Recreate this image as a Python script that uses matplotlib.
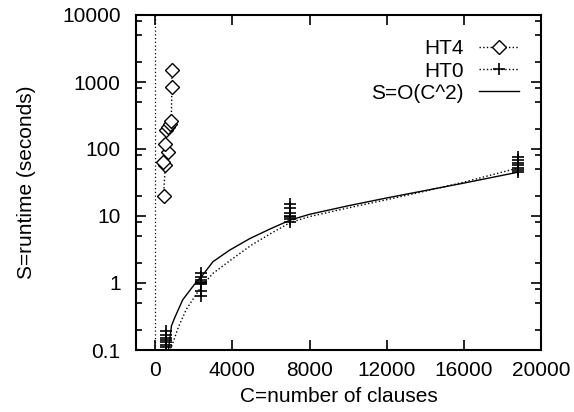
import numpy as np
import matplotlib
matplotlib.use("Agg")
import matplotlib.pyplot as plt
from matplotlib.lines import Line2D
from matplotlib.ticker import FixedLocator, NullLocator, NullFormatter

plt.rcParams['font.family'] = ['Liberation Sans', 'DejaVu Sans']

# HT4 runs (diamonds), ordered as connected
ht4_x = [430, 520, 395, 650, 480, 535, 650, 740, 830, 860, 860]
ht4_y = [20, 57, 63, 91, 117, 195, 215, 235, 260, 840, 1500]

# HT0 runs (crosses), four clusters of clause counts
ht0_x = [535, 535, 535, 535, 535, 535, 535,
         2350, 2350, 2350, 2350, 2350, 2350, 2350, 2350,
         7000, 7000, 7000, 7000, 7000, 7000, 7000,
         18800, 18800, 18800, 18800, 18800, 18800, 18800]
ht0_y = [0.11, 0.12, 0.13, 0.14, 0.15, 0.17, 0.19,
         1.4, 1.25, 1.1, 1.05, 1.0, 0.95, 0.76, 0.64,
         15, 13, 11, 10, 9.5, 9, 8,
         75, 68, 62, 58, 52, 48, 45]

# dotted HT0 trend
ht0_line_x = [780, 1200, 1600, 2400, 3000, 4000, 5000, 6000, 7000, 8000,
              10000, 12000, 14000, 16000, 18800]
ht0_line_y = [0.1, 0.22, 0.40, 0.90, 1.4, 2.3, 3.7, 5.5, 8.0, 9.8,
              13.2, 17.5, 23.5, 32, 52]

# S=O(C^2) curve
fit_x = [680, 840, 1000, 1420, 2130, 2400, 2990, 3860, 4900, 6000, 7000,
         8000, 10000, 12000, 14000, 16000, 18800]
fit_y = [0.1, 0.23, 0.30, 0.56, 1.04, 1.25, 2.08, 3.1, 4.6, 6.5, 8.7,
         10.6, 14.2, 18.6, 24, 31, 45]

xticks = [0, 4000, 8000, 12000, 16000, 20000]
yticks = [0.1, 1, 10, 100, 1000, 10000]
ytick_labels = ["0.1", "1", "10", "100", "1000", "10000"]

fs = 15

fig = plt.figure(figsize=(5.74, 4.12), dpi=100)
ax = fig.add_axes([136/574, 1-350/412, 405/574, 335/412])

ax.axvline(0, color='k', ls=(0, (1, 2)), lw=0.9)

ax.plot(ht4_x, ht4_y, color='k', ls=':', lw=1, marker='D', ms=7,
        mfc='white', mec='k', mew=1)
ax.plot(ht0_line_x, ht0_line_y, color='k', ls=':', lw=1)
ax.plot(ht0_x, ht0_y, ls='none', marker='+', ms=9, mec='k', mew=1.2)
ax.plot(fit_x, fit_y, color='k', lw=1)

ax.set_yscale('log')
ax.set_xlim(-1000, 20000)
ax.set_ylim(0.1, 10000)

ax.xaxis.set_major_locator(FixedLocator(xticks))
ax.xaxis.set_minor_locator(NullLocator())
ax.set_yticks(yticks)
ax.set_yticklabels(ytick_labels)
minors = [m * 10.0**k for k in range(-1, 4) for m in (2, 5, 8)]
ax.yaxis.set_minor_locator(FixedLocator(minors))
ax.yaxis.set_minor_formatter(NullFormatter())

ax.tick_params(which='both', direction='in', top=True, right=True,
               labelsize=fs, width=1.2)
ax.tick_params(which='major', length=7.5)
ax.tick_params(which='minor', length=4.5)
ax.tick_params(axis='y', pad=11)
ax.tick_params(axis='x', pad=8)
for s in ax.spines.values():
    s.set_linewidth(1.5)

ax.set_xlabel("C=number of clauses", fontsize=fs, labelpad=5)
ax.set_ylabel("S=runtime (seconds)", fontsize=fs, labelpad=19)

handles = [
    Line2D([], [], color='k', ls=':', lw=1, marker='D', ms=7, mfc='white', mec='k'),
    Line2D([], [], color='k', ls=':', lw=1, marker='+', ms=9, mew=1.2),
    Line2D([], [], color='k', lw=1),
]
ax.legend(handles, ["HT4", "HT0", "S=O(C^2)"], loc='upper right',
          bbox_to_anchor=(0.945, 0.927), frameon=False, fontsize=fs,
          markerfirst=False, handlelength=1.9, handletextpad=0.75,
          labelspacing=0.15, borderpad=0, borderaxespad=0, numpoints=1)

fig.savefig("out.png", dpi=100)
